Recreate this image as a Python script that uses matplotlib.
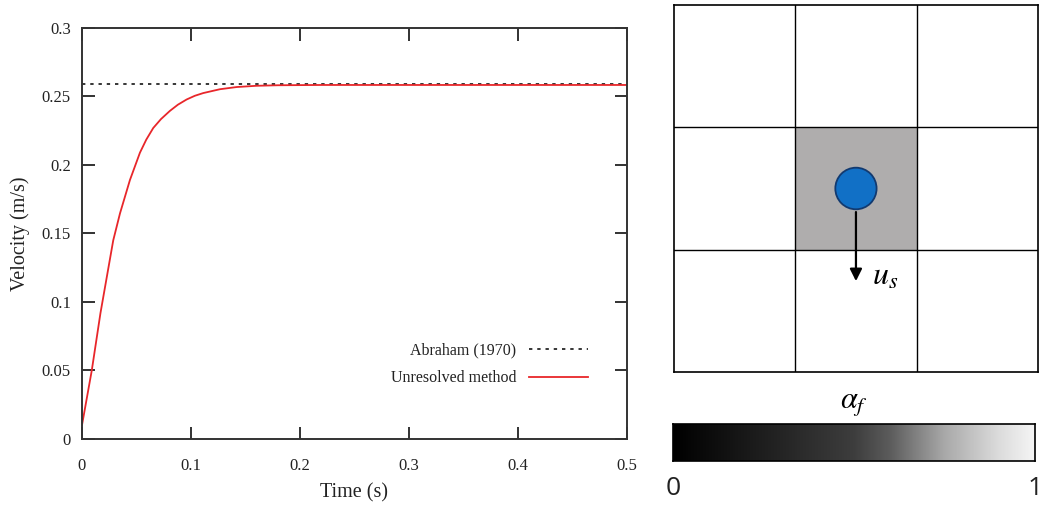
import numpy as np
import matplotlib
matplotlib.use("Agg")
import matplotlib.pyplot as plt
from matplotlib.colors import LinearSegmentedColormap
from matplotlib.patches import Rectangle, Circle

plt.rcParams['mathtext.fontset'] = 'stix'

# velocity history
time_s = [0, 0.009, 0.017, 0.0287, 0.0349, 0.044, 0.0532, 0.059, 0.0654, 0.0725,
          0.0807, 0.088, 0.096, 0.1035, 0.1113, 0.1266, 0.142, 0.16, 0.18, 0.22, 0.3, 0.4, 0.5]
vel_unresolved = [0.010, 0.050, 0.092, 0.145, 0.1647, 0.189, 0.209, 0.2185, 0.227, 0.2335,
                  0.2395, 0.2440, 0.2478, 0.2505, 0.2525, 0.2553, 0.2569, 0.2578, 0.2582,
                  0.2584, 0.2584, 0.2584, 0.2584]
abraham_t = [0, 0.5]
abraham_v = [0.259, 0.259]

xticks = [0, 0.1, 0.2, 0.3, 0.4, 0.5]
yticks = [0, 0.05, 0.1, 0.15, 0.2, 0.25, 0.3]

# grey levels of the alpha_f bar (position, grey value)
bar_pos = [0.0, 0.25, 0.5, 0.6, 0.75, 0.9, 1.0]
bar_grey = [0.0, 0.12, 0.24, 0.36, 0.66, 0.86, 0.96]

fig = plt.figure(figsize=(10.48, 5.05), dpi=100)

# ---- left: velocity plot ----
ax = fig.add_axes([0.0782, 0.1307, 0.5201, 0.8139])
ax.plot(abraham_t, abraham_v, color='black', lw=1.1, dashes=(2.2, 3.2), label='Abraham (1970)')
ax.plot(time_s, vel_unresolved, color='#e8262a', lw=1.3, label='Unresolved method')
ax.set_xlim(0, 0.5)
ax.set_ylim(0, 0.3)
ax.set_xticks(xticks)
ax.set_yticks(yticks)
ax.set_xticklabels(['0', '0.1', '0.2', '0.3', '0.4', '0.5'])
ax.set_yticklabels(['0', '0.05', '0.1', '0.15', '0.2', '0.25', '0.3'])
ax.tick_params(direction='in', length=9, width=1.3, top=True, right=True,
               labelsize=12, colors='#222222')
ax.tick_params(axis='x', pad=14)
ax.tick_params(axis='y', pad=8)
for lab in ax.get_xticklabels() + ax.get_yticklabels():
    lab.set_family('Liberation Serif')
for sp in ax.spines.values():
    sp.set_linewidth(1.4)
    sp.set_color('#333333')
ax.set_xlabel('Time (s)', family='Liberation Serif', fontsize=14.5, labelpad=6, color='#222222')
ax.set_ylabel('Velocity (m/s)', family='Liberation Serif', fontsize=14.5, labelpad=8, color='#222222')
leg = ax.legend(loc='lower right', bbox_to_anchor=(0.955, 0.093), frameon=False,
                markerfirst=False, handlelength=3.7, handletextpad=0.8,
                labelspacing=0.75, prop={'family': 'Liberation Serif', 'size': 11.5})
for t in leg.get_texts():
    t.set_color('#222222')

# ---- right: grid schematic ----
ax2 = fig.add_axes([0.6431, 0.2634, 0.3473, 0.7267])
ax2.set_xlim(0, 3)
ax2.set_ylim(0, 3)
ax2.add_patch(Rectangle((1, 1), 1, 1, facecolor='#afadad', edgecolor='none'))
for k in [1, 2]:
    ax2.axvline(k, color='black', lw=1)
    ax2.axhline(k, color='black', lw=1)
ax2.annotate('', xy=(1.5, 0.72), xytext=(1.5, 1.33),
             arrowprops=dict(arrowstyle='-|>', color='black', lw=1.6, mutation_scale=18))
ax2.add_patch(Circle((1.5, 1.5), 0.17, facecolor='#1170c6', edgecolor='#123a70', lw=1.3, zorder=3))
ax2.text(1.63, 0.78, '$u_s$', fontsize=23, va='center', ha='left')
ax2.set_xticks([])
ax2.set_yticks([])
for sp in ax2.spines.values():
    sp.set_linewidth(1.2)

# ---- colour bar for alpha_f ----
cmap = LinearSegmentedColormap.from_list('af', [(p, (g, g, g)) for p, g in zip(bar_pos, bar_grey)])
cax = fig.add_axes([0.6422, 0.0871, 0.3454, 0.0733])
cax.imshow(np.linspace(0, 1, 256)[None, :], aspect='auto', cmap=cmap, extent=[0, 1, 0, 1])
cax.set_xticks([])
cax.set_yticks([])
for sp in cax.spines.values():
    sp.set_linewidth(1.2)
fig.text(0.8149, 0.2, r'$\alpha_f$', fontsize=22, ha='center', va='center')
fig.text(0.6422, 0.033, '0', fontsize=19, ha='center', va='center', family='Open Sans', color='#222222')
fig.text(0.9876, 0.033, '1', fontsize=19, ha='center', va='center', family='Open Sans', color='#222222')

fig.savefig('out.png', dpi=100)
